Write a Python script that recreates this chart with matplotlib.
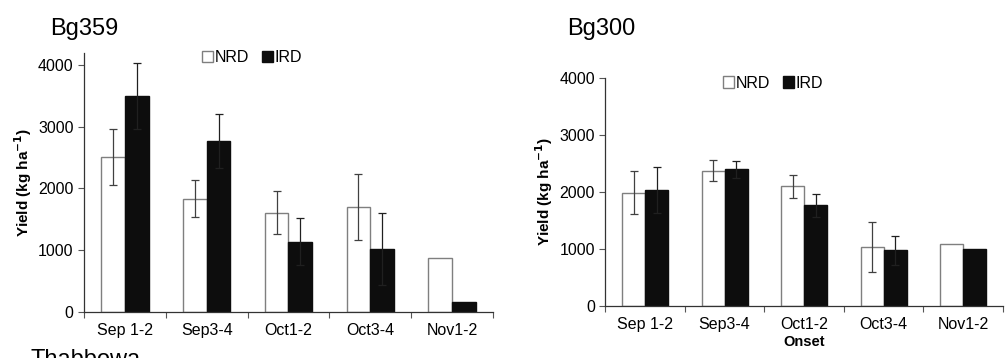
import matplotlib
matplotlib.use("Agg")
import matplotlib.pyplot as plt
import numpy as np

plt.rcParams['font.family'] = ['Liberation Sans', 'DejaVu Sans']

onsets = ["Sep 1-2", "Sep3-4", "Oct1-2", "Oct3-4", "Nov1-2"]

# Bg359 (kg/ha); Nov1-2 has no error bar
bg359_nrd = [2510, 1835, 1610, 1695, 880]
bg359_nrd_err = [450, 295, 345, 537, 0]
bg359_ird = [3495, 2765, 1140, 1025, 157]
bg359_ird_err = [535, 440, 375, 583, 0]

# Bg300
bg300_nrd = [1985, 2370, 2095, 1030, 1090]
bg300_nrd_err = [370, 185, 205, 435, 0]
bg300_ird = [2035, 2395, 1760, 972, 995]
bg300_ird_err = [405, 150, 205, 255, 0]


def add_errors(ax, xs, ys, errs, color):
    keep = [i for i, e in enumerate(errs) if e > 0]
    ax.errorbar([xs[i] for i in keep], [ys[i] for i in keep], yerr=[errs[i] for i in keep],
                fmt="none", ecolor=color, elinewidth=0.9, capsize=3, capthick=0.9)


def plot_panel(ax, nrd, nrd_err, ird, ird_err, ymax, xlabel=None):
    x = np.arange(len(onsets))
    w = 0.29
    ax.bar(x - w / 2, nrd, w, color="white", edgecolor="#7f7f7f", linewidth=1.0, label="NRD")
    ax.bar(x + w / 2, ird, w, color="#0d0d0d", edgecolor="#0d0d0d", linewidth=1.0, label="IRD")
    add_errors(ax, x - w / 2, nrd, nrd_err, "#404040")
    add_errors(ax, x + w / 2, ird, ird_err, "#202020")
    ax.set_xlim(-0.5, len(onsets) - 0.5)
    ax.set_ylim(0, ymax)
    ax.set_yticks([0, 1000, 2000, 3000, 4000])
    ax.set_xticks(np.arange(len(onsets) + 1) - 0.5)
    ax.set_xticklabels([])
    ax.set_xticks(x, minor=True)
    ax.set_xticklabels(onsets, minor=True)
    ax.tick_params(axis="x", which="minor", length=0, pad=8, labelsize=11.5)
    ax.tick_params(axis="x", which="major", length=4, direction="out", color="#555555")
    ax.tick_params(axis="y", length=4, direction="out", labelsize=11.5, color="#555555")
    for s in ["top", "right"]:
        ax.spines[s].set_visible(False)
    for s in ["left", "bottom"]:
        ax.spines[s].set_color("#333333")
        ax.spines[s].set_linewidth(0.9)
    ax.set_ylabel("Yield (kg ha$^{\\mathbf{-1}}$)", fontsize=11, fontweight="bold", labelpad=3)
    if xlabel:
        ax.set_xlabel(xlabel, fontsize=10.5, fontweight="bold", labelpad=2)


fig = plt.figure(figsize=(10.08, 3.58), dpi=100)
ax1 = fig.add_axes([0.0833, 0.1285, 0.4057, 0.7245])
ax2 = fig.add_axes([0.6005, 0.1461, 0.3945, 0.6369])

plot_panel(ax1, bg359_nrd, bg359_nrd_err, bg359_ird, bg359_ird_err, 4200)
plot_panel(ax2, bg300_nrd, bg300_nrd_err, bg300_ird, bg300_ird_err, 4000, xlabel="Onset")

leg_kw = dict(ncol=2, frameon=False, fontsize=11.5, handlelength=0.7, handleheight=0.7,
              handletextpad=0.1, columnspacing=0.8, borderaxespad=0)
ax1.legend(loc="center", bbox_to_anchor=(0.25, 0.838), bbox_transform=fig.transFigure, **leg_kw)
ax2.legend(loc="center", bbox_to_anchor=(0.767, 0.768), bbox_transform=fig.transFigure, **leg_kw)

fig.text(0.05, 0.92, "Bg359", fontsize=17, va="center", ha="left")
fig.text(0.563, 0.92, "Bg300", fontsize=17, va="center", ha="left")
fig.text(0.03, 0.025, "Thabbowa", fontsize=17, va="top", ha="left")

fig.savefig("out.png", dpi=100)
